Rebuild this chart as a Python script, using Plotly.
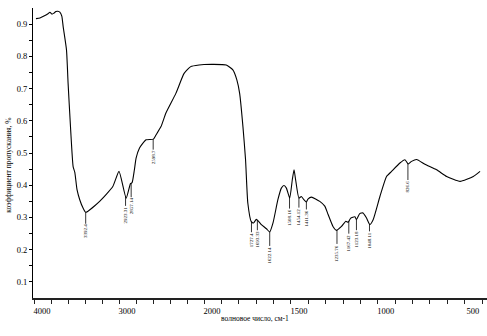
import numpy as np
import plotly.graph_objects as go

# Spectrum (wavenumber, cm-1 ; transmittance)
wavenumber = [3977, 3930, 3883, 3836, 3813, 3789, 3766, 3743, 3719, 3696, 3673, 3657, 3618, 3599,
              3571, 3540, 3520, 3494, 3462, 3423, 3392, 3228, 3073, 3000, 2916, 2865, 2846, 2819,
              2799, 2760, 2682, 2596, 2565, 2506, 2448, 2331, 2234, 2156, 2058, 1949, 1872, 1834,
              1811, 1795, 1776, 1761, 1748, 1728, 1715, 1699, 1686, 1670, 1641, 1622, 1603, 1575,
              1555, 1540, 1526, 1507, 1492, 1482, 1473, 1454, 1440, 1425, 1411, 1402, 1382, 1334,
              1305, 1286, 1258, 1238, 1209, 1184, 1171, 1156, 1132, 1123, 1104, 1085, 1065, 1046,
              1027, 988, 950, 921, 873, 844, 825, 806, 777, 729, 662, 604, 527, 451, 412]
transmittance = [0.917, 0.919, 0.925, 0.932, 0.937, 0.931, 0.934, 0.939, 0.940, 0.937, 0.925, 0.892,
                 0.820, 0.716, 0.582, 0.458, 0.440, 0.386, 0.355, 0.329, 0.316, 0.350, 0.396, 0.443,
                 0.360, 0.405, 0.408, 0.448, 0.484, 0.515, 0.541, 0.543, 0.556, 0.582, 0.624, 0.685,
                 0.747, 0.768, 0.773, 0.775, 0.773, 0.758, 0.727, 0.685, 0.582, 0.479, 0.345, 0.287,
                 0.283, 0.294, 0.288, 0.278, 0.265, 0.255, 0.283, 0.355, 0.391, 0.399, 0.391, 0.360,
                 0.417, 0.448, 0.417, 0.360, 0.365, 0.355, 0.348, 0.357, 0.363, 0.350, 0.335, 0.309,
                 0.272, 0.260, 0.272, 0.288, 0.285, 0.298, 0.302, 0.293, 0.312, 0.314, 0.298, 0.278,
                 0.293, 0.365, 0.427, 0.443, 0.469, 0.479, 0.466, 0.474, 0.480, 0.465, 0.448, 0.427,
                 0.412, 0.427, 0.443]

# Peak labels
peak_wn = [3392, 2923, 2857, 2598, 1727, 1693, 1622, 1508, 1454, 1411, 1235, 1167, 1123, 1048, 827]
peak_labels = ["3392.4", "2923.31", "2857.14", "2598.7", "1727.4", "1693.33", "1622.14", "1508.16",
               "1454.12", "1411.36", "1235.76", "1167.42", "1123.18", "1048.11", "826.6"]
label_offsets = [19, 19, 23, 18, 18, 19, 23, 20, 18.5, 16.5, 23, 21.5, 19.5, 16.5, 23]

upper_ticks = list(range(4000, 2199, -200))
upper_text = ["4000", "", "", "", "", "3000", "", "", "", ""]
lower_ticks = list(range(2000, 399, -100))
lower_text = [str(t) if t % 500 == 0 else "" for t in lower_ticks]
y_ticks = [round(0.1 + 0.05 * i, 2) for i in range(17)]
y_text = [f"{v:.1f}" if abs(v * 10 - round(v * 10)) < 1e-6 else "" for v in y_ticks]

FONT = "Liberation Serif"
fig = go.Figure()
line = dict(color="black", width=1.1, shape="spline", smoothing=0.5)
fig.add_trace(go.Scatter(x=wavenumber, y=transmittance, mode="lines", line=line,
                         xaxis="x", yaxis="y", showlegend=False))
fig.add_trace(go.Scatter(x=wavenumber, y=transmittance, mode="lines", line=line,
                         xaxis="x2", yaxis="y", showlegend=False))

wn_sorted = np.array(wavenumber[::-1], dtype=float)
tr_sorted = np.array(transmittance[::-1], dtype=float)
annotations = []
for wn, lab, off in zip(peak_wn, peak_labels, label_offsets):
    yv = float(np.interp(wn, wn_sorted, tr_sorted))
    annotations.append(dict(
        x=wn, y=yv, xref="x" if wn > 2000 else "x2", yref="y",
        text=lab, textangle=-90, showarrow=True, arrowhead=0, arrowwidth=0.8,
        arrowcolor="black", ax=0, ay=off, standoff=0, borderpad=0,
        font=dict(family=FONT, size=5, color="black")))

annotations.append(dict(text="волновое число, см-1", xref="paper", yref="paper",
                        x=0.488, y=-0.072, showarrow=False, xanchor="center", yanchor="middle",
                        font=dict(family=FONT, size=7.5, color="black")))
annotations.append(dict(text="коэффициент пропускания, %", xref="paper", yref="paper",
                        x=-0.053, y=0.459, showarrow=False, textangle=-90,
                        xanchor="center", yanchor="middle",
                        font=dict(family=FONT, size=7.5, color="black")))

split = (204 - 33) / 454
axis_common = dict(showgrid=False, zeroline=False, showline=True, linecolor="#222",
                   linewidth=1.5, ticks="outside", ticklen=4, tickwidth=1, tickcolor="#222",
                   tickfont=dict(family=FONT, size=8.5, color="black"), ticklabelshift=-8,
                   ticklabelstandoff=0)
fig.update_layout(
    width=487, height=336, margin=dict(l=33, r=0, t=8, b=38),
    paper_bgcolor="white", plot_bgcolor="white",
    xaxis=dict(domain=[0, split], range=[4012, 2000], tickmode="array",
               tickvals=upper_ticks, ticktext=upper_text, anchor="y", **axis_common),
    xaxis2=dict(domain=[split, 1], range=[2000, 372], tickmode="array",
                tickvals=lower_ticks, ticktext=lower_text, anchor="y", **axis_common),
    yaxis=dict(range=[0.05, 0.95], tickmode="array", tickvals=y_ticks, ticktext=y_text,
               showgrid=False, zeroline=False, showline=True, linecolor="black", linewidth=1,
               ticks="outside", ticklen=3, tickcolor="black",
               tickfont=dict(family=FONT, size=8.5, color="black"), anchor="x"),
    annotations=annotations,
)
fig.write_html("out.html")
